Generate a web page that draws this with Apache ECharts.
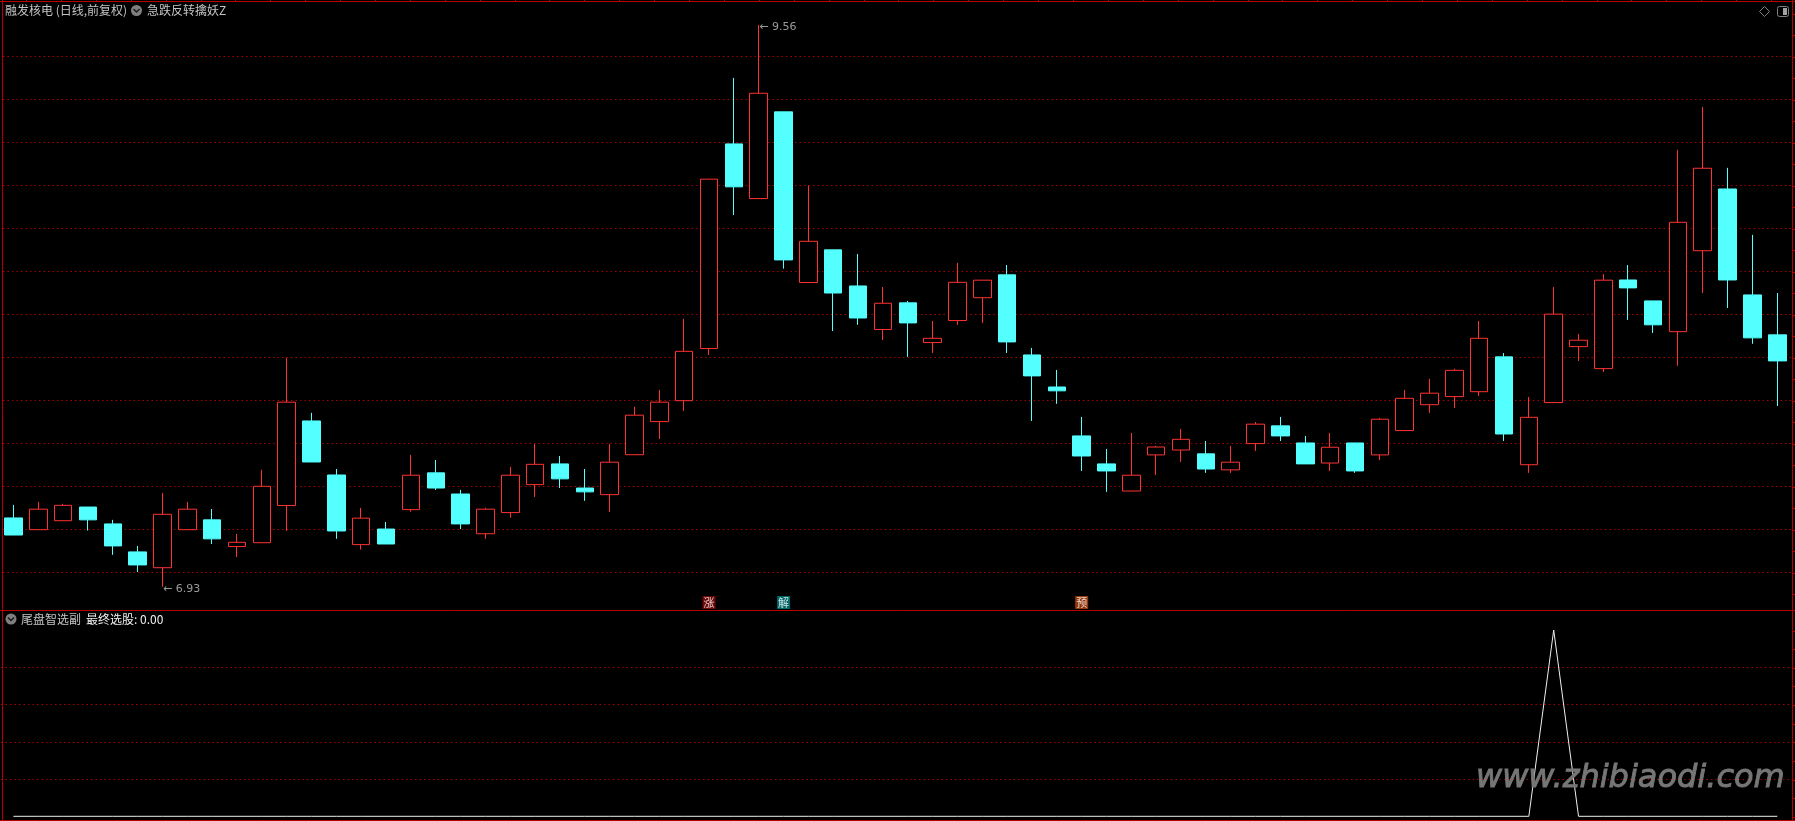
<!DOCTYPE html>
<html>
<head>
<meta charset="utf-8">
<style>html,body{margin:0;padding:0;background:#000;overflow:hidden}#c{width:1795px;height:821px}</style>
<script src="https://cdn.jsdelivr.net/npm/echarts@6/dist/echarts.min.js"></script>
</head>
<body>
<div id="c"></div>
<script>
const opens = [7.252,7.197,7.239,7.303,7.224,7.093,7.019,7.197,7.243,7.118,7.136,7.310,7.706,7.453,7.127,7.200,7.291,7.463,7.364,7.178,7.277,7.408,7.505,7.392,7.361,7.548,7.703,7.801,8.045,9.003,8.747,9.153,8.354,8.507,8.338,8.134,8.259,8.073,8.176,8.283,8.390,8.015,7.865,7.636,7.505,7.378,7.547,7.570,7.552,7.477,7.600,7.683,7.603,7.509,7.603,7.547,7.661,7.782,7.820,7.843,8.006,7.501,7.792,8.054,7.951,8.366,8.268,8.124,8.503,8.792,8.296,8.109];
const closes = [7.172,7.293,7.311,7.243,7.121,7.032,7.269,7.293,7.154,7.138,7.400,7.794,7.514,7.191,7.251,7.130,7.452,7.392,7.224,7.293,7.452,7.503,7.435,7.374,7.513,7.733,7.794,8.032,8.838,8.802,9.240,8.460,8.547,8.305,8.188,8.257,8.165,8.093,8.355,8.365,8.076,7.917,7.847,7.542,7.472,7.452,7.584,7.620,7.481,7.513,7.691,7.636,7.505,7.583,7.472,7.714,7.812,7.836,7.943,8.093,7.645,7.723,8.206,8.084,8.365,8.329,8.156,8.636,8.889,8.366,8.095,7.987];
const lows = [7.172,7.197,7.239,7.193,7.079,6.999,6.93,7.197,7.130,7.069,7.136,7.191,7.514,7.154,7.104,7.130,7.281,7.383,7.200,7.154,7.253,7.350,7.392,7.332,7.280,7.548,7.622,7.753,8.015,8.670,8.747,8.419,8.354,8.127,8.156,8.085,8.006,8.024,8.156,8.165,8.024,7.706,7.786,7.472,7.374,7.378,7.453,7.514,7.463,7.463,7.566,7.612,7.505,7.472,7.463,7.523,7.661,7.744,7.767,7.823,7.612,7.463,7.792,7.987,7.935,8.179,8.118,7.964,8.305,8.235,8.067,7.776];
const highs = [7.313,7.327,7.318,7.303,7.243,7.121,7.369,7.327,7.294,7.177,7.477,8.001,7.744,7.481,7.299,7.233,7.547,7.523,7.383,7.299,7.491,7.598,7.542,7.481,7.598,7.772,7.851,8.184,8.838,9.312,9.56,9.153,8.808,8.507,8.488,8.333,8.268,8.174,8.446,8.365,8.436,8.048,7.945,7.725,7.575,7.650,7.589,7.669,7.612,7.589,7.701,7.725,7.636,7.650,7.603,7.720,7.851,7.903,7.950,8.174,8.024,7.818,8.333,8.113,8.394,8.436,8.268,8.975,9.176,8.891,8.577,8.305];
const finalPick = [0,0,0,0,0,0,0,0,0,0,0,0,0,0,0,0,0,0,0,0,0,0,0,0,0,0,0,0,0,0,0,0,0,0,0,0,0,0,0,0,0,0,0,0,0,0,0,0,0,0,0,0,0,0,0,0,0,0,0,0,0,0,1,0,0,0,0,0,0,0,0,0];
const days = opens.map((_, i) => String(i + 1));
const signalDays = [28, 31, 43];
const signalTexts = ['涨', '解', '预'];
const signalLevel = 6.856;
const titleStock = '融发核电 (日线,前复权)';
const titleIndicator = '急跌反转擒妖Z';
const titleSub = '尾盘智选副';
const titleSubValue = '最终选股: 0.00';
const watermark = 'www.zhibiaodi.com';

const RED = '#ff3232', CYAN = '#54ffff', FRAME = '#b80000', GRIDC = '#a80000';
const signalColors = {'涨': '#8a0a0a', '解': '#008080', '预': '#b8450f'};
const candleData = opens.map((o, i) => [o, closes[i], lows[i], highs[i]]);
const hi = Math.max(...highs), lo = Math.min(...lows);
const extremes = [[highs.indexOf(hi), hi], [lows.indexOf(lo), lo]];

const fontCJK = '"Noto Sans CJK SC","Noto Sans",sans-serif';
const line = (x1, y1, x2, y2, color, w) => ({type: 'line', silent: true, z: 50, shape: {x1, y1, x2, y2}, style: {stroke: color, lineWidth: w || 1}});
const txt = (x, y, text, color) => ({type: 'text', silent: true, z: 50, x, y, style: {text, fill: color, font: '12px ' + fontCJK, textVerticalAlign: 'middle'}});
const chevron = (cx, cy) => [
  {type: 'circle', silent: true, z: 50, shape: {cx, cy, r: 5.5}, style: {fill: '#808080'}},
  {type: 'polyline', silent: true, z: 51, shape: {points: [[cx - 3, cy - 1.5], [cx, cy + 1.5], [cx + 3, cy - 1.5]]}, style: {stroke: '#1a1a1a', lineWidth: 1.5, fill: 'none'}}
];
const graphics = [
  line(0, 1.5, 1795, 1.5, FRAME), line(2.5, 0, 2.5, 821, FRAME), line(1792.5, 0, 1792.5, 821, FRAME),
  line(0, 610.5, 1795, 610.5, FRAME), line(0, 820.5, 1795, 820.5, FRAME),
  txt(5, 10, titleStock, '#c4c4c4'), ...chevron(136.5, 10.5), txt(147, 10, titleIndicator, '#c4c4c4'),
  ...chevron(11, 619), txt(21, 619, titleSub, '#c4c4c4'), txt(86, 619, titleSubValue, '#f0f0f0'),
  {type: 'polygon', silent: true, z: 50, shape: {points: [[1764.5, 6.5], [1769.5, 11.5], [1764.5, 16.5], [1759.5, 11.5]]}, style: {fill: 'none', stroke: '#808080', lineWidth: 1}},
  {type: 'rect', silent: true, z: 50, shape: {x: 1777.5, y: 6.5, width: 11, height: 10, r: 2}, style: {fill: 'none', stroke: '#808080', lineWidth: 1}},
  {type: 'rect', silent: true, z: 50, shape: {x: 1783, y: 8, width: 4, height: 7}, style: {fill: '#a0a0a0'}},
  {type: 'text', silent: true, z: 60, x: 1476, y: 795, style: {text: watermark, fill: '#767676', stroke: '#767676', lineWidth: 0.9, font: 'italic 32px "DejaVu Sans"', textVerticalAlign: 'bottom', shadowColor: '#555', shadowBlur: 6, shadowOffsetX: 1, shadowOffsetY: 2}}
];
for (let x = 26; x < 1790; x += 34.9) graphics.push(line(Math.round(x) + .5, 0, Math.round(x) + .5, 1, FRAME));
for (let y = 13.5; y < 610; y += 21.5) graphics.push(line(1792, Math.round(y) + .5, 1795, Math.round(y) + .5, FRAME));
for (let y = 630.5; y < 820; y += 18.65) graphics.push(line(1792, Math.round(y) + .5, 1795, Math.round(y) + .5, FRAME));

const gridSplit = {show: true, showMinLine: false, showMaxLine: false, lineStyle: {color: GRIDC, type: [1.5, 3], width: 1}};
const option = {
  backgroundColor: '#000',
  animation: false,
  grid: [
    {left: 1, top: 1, width: 1788.7, height: 609},
    {left: 1, top: 630, width: 1788.7, height: 186.3},
    {left: 3, top: 13.7, width: 1789, height: 602}
  ],
  xAxis: [
    {type: 'category', gridIndex: 0, data: days, show: false, boundaryGap: true},
    {type: 'category', gridIndex: 1, data: days, show: false, boundaryGap: true},
    {type: 'value', gridIndex: 2, show: false, min: 0, max: 1}
  ],
  yAxis: [
    {type: 'value', gridIndex: 0, min: 6.821, max: 9.672, show: false, splitLine: {show: false}},
    {type: 'value', gridIndex: 1, min: 0, max: 1, interval: 0.2, position: 'right', axisLabel: {show: false}, axisLine: {show: false}, axisTick: {show: false}, splitLine: gridSplit},
    {type: 'value', gridIndex: 2, min: 0, max: 14, interval: 1, position: 'right', axisLabel: {show: false}, axisLine: {show: false}, axisTick: {show: false}, splitLine: gridSplit}
  ],
  series: [
    {type: 'candlestick', xAxisIndex: 0, yAxisIndex: 0, data: candleData, barWidth: 18, clip: false, z: 5,
      itemStyle: {color: '#000', color0: CYAN, borderColor: RED, borderColor0: CYAN, borderWidth: 1}},
    {type: 'scatter', xAxisIndex: 0, yAxisIndex: 0, z: 6, symbol: 'circle', symbolSize: 1, itemStyle: {color: 'rgba(0,0,0,0)'}, data: extremes, silent: true, clip: false,
      label: {show: true, position: 'right', distance: 0, offset: [0, 2], color: '#c0c0c0', fontFamily: 'DejaVu Sans', fontSize: 11, formatter: p => '← ' + p.value[1].toFixed(2)}},
    {type: 'scatter', xAxisIndex: 0, yAxisIndex: 0, z: 6, symbol: 'rect', symbolSize: 13, silent: true,
      data: signalDays.map((d, i) => ({value: [d, signalLevel], name: signalTexts[i], itemStyle: {color: signalColors[signalTexts[i]]}})),
      label: {show: true, position: 'inside', color: '#fff', fontFamily: fontCJK, fontSize: 11, formatter: p => p.name}},
    {type: 'line', xAxisIndex: 1, yAxisIndex: 1, data: finalPick, symbol: 'none', clip: false, z: 5, lineStyle: {color: '#f0f0f0', width: 1}}
  ],
  graphic: graphics
};
const chart = echarts.init(document.getElementById('c'), null, {renderer: 'canvas', width: 1795, height: 821});
chart.setOption(option);
</script>
</body>
</html>
